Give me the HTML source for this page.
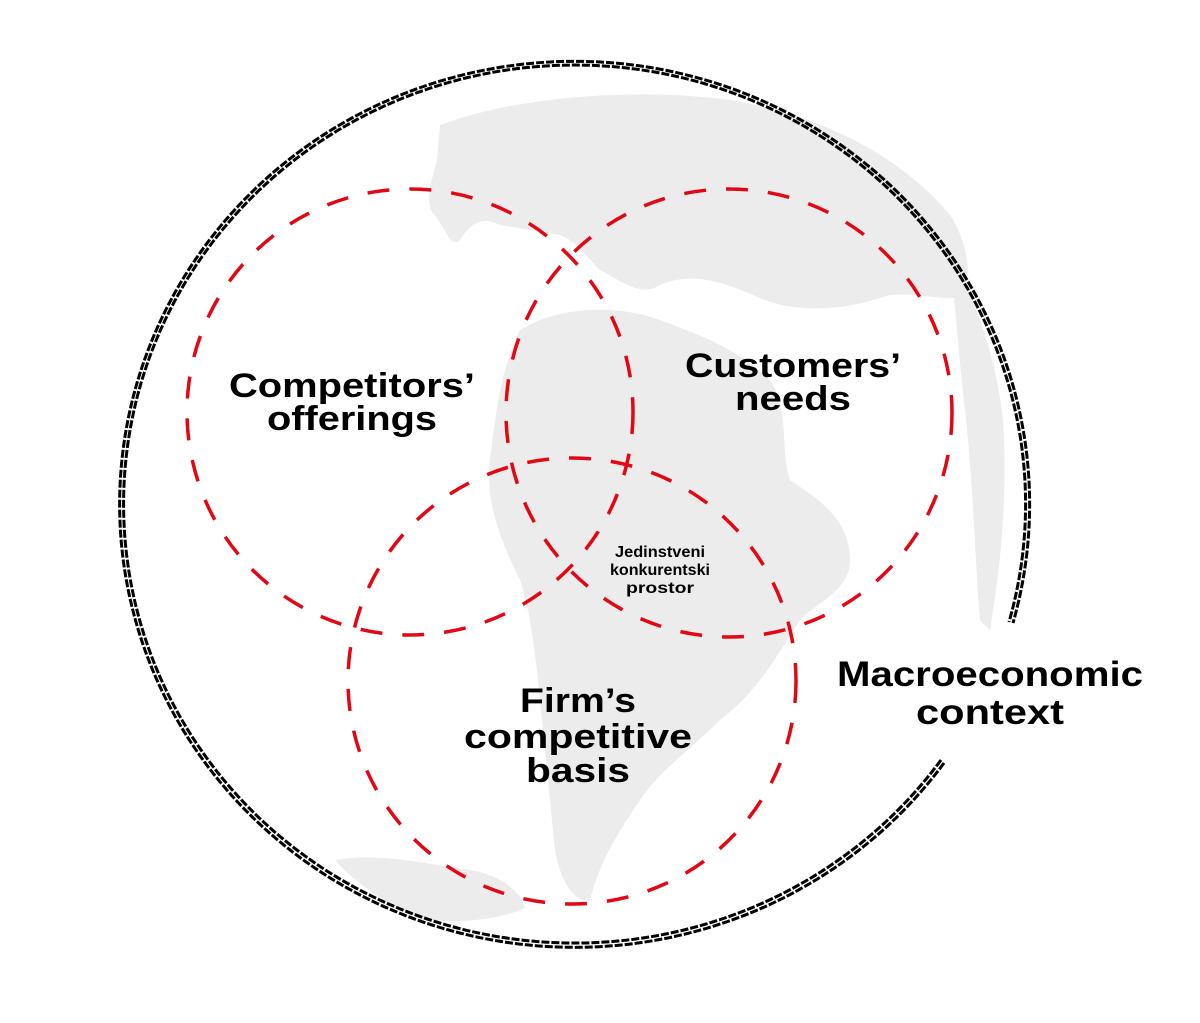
<!DOCTYPE html>
<html><head><meta charset="utf-8"><style>
html,body{margin:0;padding:0;background:#fff;}
svg{display:block;}
text{font-family:"Liberation Sans",sans-serif;font-weight:bold;fill:#000;text-anchor:middle;}
</style></head><body>
<svg width="1200" height="1023" viewBox="0 0 1200 1023" xmlns="http://www.w3.org/2000/svg">
<g fill="#ececec">
<path d="M440,125 C520,95 640,88 730,100 C820,115 900,155 950,215 C970,245 975,290 955,298 C925,298 900,290 880,298 C850,308 800,315 760,298 C720,280 690,272 660,285 C640,298 620,280 600,270 C585,255 575,240 560,235 C540,232 520,228 500,225 C480,215 470,225 460,240 C450,250 445,225 432,212 C425,198 432,180 437,160 Z"/>
<path d="M520,330 C560,305 620,305 660,320 C700,335 740,350 770,380 C790,410 780,450 790,480 C820,500 850,520 850,560 C850,590 820,600 800,620 C780,650 760,690 720,720 C690,750 660,770 640,800 C620,830 600,860 590,900 C575,905 560,880 555,850 C550,800 545,750 540,700 C535,650 530,610 520,580 C500,540 485,500 490,460 C495,420 500,370 520,330 Z"/>
<path d="M335,860 C380,852 430,865 470,870 C500,875 520,890 525,908 C500,920 450,925 420,918 C390,905 360,888 335,860 Z"/>
<path d="M950,260 C972,290 995,350 1003,420 C1008,500 1000,570 990,630 L980,620 C975,560 973,480 965,410 C958,350 955,300 950,260 Z"/>
</g>
<g fill="none" stroke="#000" stroke-width="3" stroke-dasharray="8 2">
<path d="M944,763 A455,443 0 1 1 1013,623"/>
<path d="M941,760 A451,439 0 1 1 1009,622"/>
</g>
<g fill="none" stroke="#e30613" stroke-width="3.5" stroke-dasharray="22 20">
<ellipse cx="410" cy="412" rx="223" ry="223"/>
<ellipse cx="729" cy="413" rx="223" ry="224"/>
<ellipse cx="572" cy="681" rx="224" ry="223"/>
</g>
<text x="352" y="397" font-size="34" textLength="246" lengthAdjust="spacingAndGlyphs">Competitors’</text>
<text x="352" y="430" font-size="34" textLength="170" lengthAdjust="spacingAndGlyphs">offerings</text>
<text x="793" y="377" font-size="34" textLength="216" lengthAdjust="spacingAndGlyphs">Customers’</text>
<text x="793" y="410" font-size="34" textLength="116" lengthAdjust="spacingAndGlyphs">needs</text>
<text x="578" y="712" font-size="34" textLength="116" lengthAdjust="spacingAndGlyphs">Firm’s</text>
<text x="578" y="748" font-size="34" textLength="228" lengthAdjust="spacingAndGlyphs">competitive</text>
<text x="578" y="782" font-size="34" textLength="104" lengthAdjust="spacingAndGlyphs">basis</text>
<text x="990" y="686" font-size="35" textLength="306" lengthAdjust="spacingAndGlyphs">Macroeconomic</text>
<text x="990" y="724" font-size="35" textLength="148" lengthAdjust="spacingAndGlyphs">context</text>
<text x="660" y="557" font-size="16" textLength="90" lengthAdjust="spacingAndGlyphs">Jedinstveni</text>
<text x="660" y="575" font-size="16" textLength="100" lengthAdjust="spacingAndGlyphs">konkurentski</text>
<text x="660" y="593" font-size="16" textLength="68" lengthAdjust="spacingAndGlyphs">prostor</text>
</svg>
</body></html>
